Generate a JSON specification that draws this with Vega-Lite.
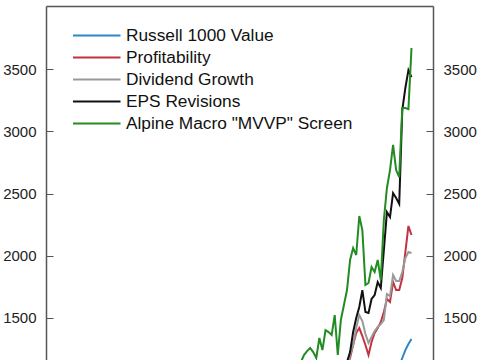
{
"$schema": "https://vega.github.io/schema/vega-lite/v6.json",
"width": 387, "height": 354,
"autosize": {"type": "none"},
"padding": {"left": 46, "top": 6, "right": 52, "bottom": 0},
"config": {"view": {"stroke": null}, "font": "Liberation Sans",
  "legend": {"orient": "none", "legendX": 26, "legendY": 19, "padding": 0, "title": null, "symbolType": "M-1,0H4", "symbolSize": 361, "symbolStrokeWidth": 2, "labelFontSize": 17.3, "labelFont": "Liberation Sans", "labelColor": "#111", "labelOffset": 33, "rowPadding": 3, "labelLimit": 400}},
"data": {"values": [
{"s":"Russell 1000 Value","year":2018.00,"value":1039},{"s":"Russell 1000 Value","year":2018.25,"value":1112},{"s":"Russell 1000 Value","year":2018.50,"value":1176},{"s":"Russell 1000 Value","year":2018.75,"value":1240},{"s":"Russell 1000 Value","year":2019.00,"value":1289},{"s":"Russell 1000 Value","year":2019.25,"value":1329},
{"s":"Profitability","year":2013.75,"value":958},{"s":"Profitability","year":2014.00,"value":1096},{"s":"Profitability","year":2014.25,"value":1176},{"s":"Profitability","year":2014.50,"value":1281},{"s":"Profitability","year":2014.75,"value":1377},{"s":"Profitability","year":2015.00,"value":1417},{"s":"Profitability","year":2015.25,"value":1353},{"s":"Profitability","year":2015.50,"value":1281},{"s":"Profitability","year":2015.75,"value":1200},{"s":"Profitability","year":2016.00,"value":1305},{"s":"Profitability","year":2016.25,"value":1377},{"s":"Profitability","year":2016.50,"value":1417},{"s":"Profitability","year":2016.75,"value":1466},{"s":"Profitability","year":2017.00,"value":1546},{"s":"Profitability","year":2017.25,"value":1651},{"s":"Profitability","year":2017.50,"value":1627},{"s":"Profitability","year":2017.75,"value":1788},{"s":"Profitability","year":2018.00,"value":1723},{"s":"Profitability","year":2018.25,"value":1723},{"s":"Profitability","year":2018.50,"value":1820},{"s":"Profitability","year":2018.75,"value":2029},{"s":"Profitability","year":2019.00,"value":2239},{"s":"Profitability","year":2019.25,"value":2166},
{"s":"Dividend Growth","year":2014.00,"value":1063},{"s":"Dividend Growth","year":2014.25,"value":1200},{"s":"Dividend Growth","year":2014.50,"value":1281},{"s":"Dividend Growth","year":2014.75,"value":1417},{"s":"Dividend Growth","year":2015.00,"value":1522},{"s":"Dividend Growth","year":2015.25,"value":1474},{"s":"Dividend Growth","year":2015.50,"value":1369},{"s":"Dividend Growth","year":2015.75,"value":1297},{"s":"Dividend Growth","year":2016.00,"value":1345},{"s":"Dividend Growth","year":2016.25,"value":1393},{"s":"Dividend Growth","year":2016.50,"value":1426},{"s":"Dividend Growth","year":2016.75,"value":1450},{"s":"Dividend Growth","year":2017.00,"value":1482},{"s":"Dividend Growth","year":2017.25,"value":1691},{"s":"Dividend Growth","year":2017.50,"value":1675},{"s":"Dividend Growth","year":2017.75,"value":1844},{"s":"Dividend Growth","year":2018.00,"value":1796},{"s":"Dividend Growth","year":2018.25,"value":1796},{"s":"Dividend Growth","year":2018.50,"value":1868},{"s":"Dividend Growth","year":2018.75,"value":1981},{"s":"Dividend Growth","year":2019.00,"value":2029},{"s":"Dividend Growth","year":2019.25,"value":2021},
{"s":"EPS Revisions","year":2013.75,"value":999},{"s":"EPS Revisions","year":2014.00,"value":1144},{"s":"EPS Revisions","year":2014.25,"value":1224},{"s":"EPS Revisions","year":2014.50,"value":1385},{"s":"EPS Revisions","year":2014.75,"value":1498},{"s":"EPS Revisions","year":2015.00,"value":1587},{"s":"EPS Revisions","year":2015.25,"value":1723},{"s":"EPS Revisions","year":2015.50,"value":1546},{"s":"EPS Revisions","year":2015.75,"value":1538},{"s":"EPS Revisions","year":2016.00,"value":1651},{"s":"EPS Revisions","year":2016.25,"value":1683},{"s":"EPS Revisions","year":2016.50,"value":1788},{"s":"EPS Revisions","year":2016.75,"value":1740},{"s":"EPS Revisions","year":2017.00,"value":2045},{"s":"EPS Revisions","year":2017.25,"value":2351},{"s":"EPS Revisions","year":2017.50,"value":2311},{"s":"EPS Revisions","year":2017.75,"value":2504},{"s":"EPS Revisions","year":2018.00,"value":2464},{"s":"EPS Revisions","year":2018.25,"value":2416},{"s":"EPS Revisions","year":2018.50,"value":3172},{"s":"EPS Revisions","year":2018.75,"value":3350},{"s":"EPS Revisions","year":2019.00,"value":3494},{"s":"EPS Revisions","year":2019.25,"value":3438},
{"s":"Alpine Macro \"MVVP\" Screen","year":2010.00,"value":1079},{"s":"Alpine Macro \"MVVP\" Screen","year":2010.25,"value":1144},{"s":"Alpine Macro \"MVVP\" Screen","year":2010.50,"value":1200},{"s":"Alpine Macro \"MVVP\" Screen","year":2010.75,"value":1232},{"s":"Alpine Macro \"MVVP\" Screen","year":2011.00,"value":1257},{"s":"Alpine Macro \"MVVP\" Screen","year":2011.25,"value":1224},{"s":"Alpine Macro \"MVVP\" Screen","year":2011.50,"value":1176},{"s":"Alpine Macro \"MVVP\" Screen","year":2011.75,"value":1337},{"s":"Alpine Macro \"MVVP\" Screen","year":2012.00,"value":1240},{"s":"Alpine Macro \"MVVP\" Screen","year":2012.25,"value":1401},{"s":"Alpine Macro \"MVVP\" Screen","year":2012.50,"value":1385},{"s":"Alpine Macro \"MVVP\" Screen","year":2012.75,"value":1361},{"s":"Alpine Macro \"MVVP\" Screen","year":2013.00,"value":1522},{"s":"Alpine Macro \"MVVP\" Screen","year":2013.25,"value":1200},{"s":"Alpine Macro \"MVVP\" Screen","year":2013.50,"value":1482},{"s":"Alpine Macro \"MVVP\" Screen","year":2013.75,"value":1603},{"s":"Alpine Macro \"MVVP\" Screen","year":2014.00,"value":1723},{"s":"Alpine Macro \"MVVP\" Screen","year":2014.25,"value":1965},{"s":"Alpine Macro \"MVVP\" Screen","year":2014.50,"value":2062},{"s":"Alpine Macro \"MVVP\" Screen","year":2014.75,"value":2005},{"s":"Alpine Macro \"MVVP\" Screen","year":2015.00,"value":2319},{"s":"Alpine Macro \"MVVP\" Screen","year":2015.25,"value":2206},{"s":"Alpine Macro \"MVVP\" Screen","year":2015.50,"value":1764},{"s":"Alpine Macro \"MVVP\" Screen","year":2015.75,"value":1780},{"s":"Alpine Macro \"MVVP\" Screen","year":2016.00,"value":1909},{"s":"Alpine Macro \"MVVP\" Screen","year":2016.25,"value":1868},{"s":"Alpine Macro \"MVVP\" Screen","year":2016.50,"value":1965},{"s":"Alpine Macro \"MVVP\" Screen","year":2016.75,"value":1804},{"s":"Alpine Macro \"MVVP\" Screen","year":2017.00,"value":2287},{"s":"Alpine Macro \"MVVP\" Screen","year":2017.25,"value":2545},{"s":"Alpine Macro \"MVVP\" Screen","year":2017.50,"value":2689},{"s":"Alpine Macro \"MVVP\" Screen","year":2017.75,"value":2891},{"s":"Alpine Macro \"MVVP\" Screen","year":2018.00,"value":2689},{"s":"Alpine Macro \"MVVP\" Screen","year":2018.25,"value":2633},{"s":"Alpine Macro \"MVVP\" Screen","year":2018.50,"value":3188},{"s":"Alpine Macro \"MVVP\" Screen","year":2018.75,"value":3188},{"s":"Alpine Macro \"MVVP\" Screen","year":2019.00,"value":3180},{"s":"Alpine Macro \"MVVP\" Screen","year":2019.25,"value":3672}
]},
"layer": [
 {"mark": {"type": "line", "strokeWidth": 2, "clip": true},
  "encoding": {
   "x": {"field": "year", "type": "quantitative", "scale": {"domain": [1989.5, 2021], "nice": false, "zero": false},
     "axis": {"orient": "top", "labels": false, "ticks": false, "grid": false, "title": null, "domainColor": "#555", "domainWidth": 1.5}},
   "y": {"field": "value", "type": "quantitative", "scale": {"domain": [1160, 4010], "nice": false, "zero": false},
     "axis": {"orient": "left", "values": [1500, 2000, 2500, 3000, 3500], "format": "d", "grid": false, "title": null, "tickSize": -7, "tickColor": "#555", "tickWidth": 1, "labelPadding": 17, "labelFontSize": 15, "labelColor": "#222", "labelFont": "Liberation Sans", "domainColor": "#555", "domainWidth": 1.5}},
   "color": {"field": "s", "type": "nominal",
     "scale": {"domain": ["Russell 1000 Value", "Profitability", "Dividend Growth", "EPS Revisions", "Alpine Macro \"MVVP\" Screen"], "range": ["#2b87c9", "#c0333f", "#999999", "#111111", "#228b22"]}}
  }},
 {"mark": {"type": "line", "strokeWidth": 2, "clip": true, "opacity": 0},
  "encoding": {
   "x": {"field": "year", "type": "quantitative", "scale": {"domain": [1989.5, 2021], "nice": false, "zero": false},
     "axis": {"orient": "top", "labels": false, "ticks": false, "grid": false, "title": null, "domainColor": "#555", "domainWidth": 1.5}},
   "y": {"field": "value", "type": "quantitative", "scale": {"domain": [1160, 4010], "nice": false, "zero": false},
     "axis": {"orient": "right", "values": [1500, 2000, 2500, 3000, 3500], "format": "d", "grid": false, "title": null, "tickSize": -7, "tickColor": "#555", "tickWidth": 1, "labelPadding": 17, "labelFontSize": 15, "labelColor": "#222", "labelFont": "Liberation Sans", "domainColor": "#555", "domainWidth": 1.5}},
   "detail": {"field": "s", "type": "nominal"}
  }}
],
"resolve": {"axis": {"y": "independent"}}
}
